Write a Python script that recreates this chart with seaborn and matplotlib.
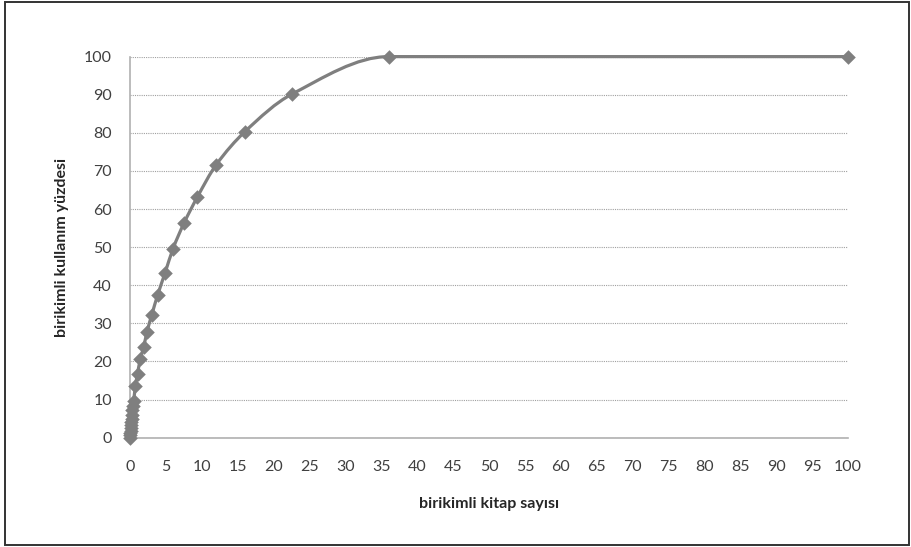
import numpy as np
import pandas as pd
import seaborn as sns
import matplotlib.pyplot as plt
from matplotlib.path import Path
from matplotlib.patches import PathPatch, Rectangle

# okunan degerler (birikimli kitap sayisi %, birikimli kullanim %)
kitap = [0, 0.02, 0.05, 0.08, 0.11, 0.15, 0.19, 0.24, 0.29, 0.35, 0.42, 0.5,
         0.77, 1.05, 1.45, 1.9, 2.35, 3.05, 3.85, 4.9, 6.0, 7.5, 9.4, 12.0,
         16.0, 22.5, 36.0, 100.0]
kullanim = [0, 0.6, 1.2, 1.8, 2.5, 3.2, 4.0, 5.0, 6.0, 7.2, 8.3, 9.5,
            13.6, 16.8, 20.6, 23.7, 27.6, 32.3, 37.4, 43.3, 49.6, 56.2, 63.2, 71.6,
            80.3, 90.1, 100.0, 100.0]
x_ticks = list(range(0, 101, 5))
y_ticks = list(range(0, 101, 10))

df = pd.DataFrame({'kitap': kitap, 'kullanim': kullanim})

sns.set_style('white')
plt.rcParams['font.family'] = ['Lato', 'DejaVu Sans']

fig = plt.figure(figsize=(9.12, 5.47), dpi=100)
ax = fig.add_axes([0.1425, 0.2, 0.7875, 0.6965])
ax.set_xlim(0, 100)
ax.set_ylim(0, 100)

gri = '#7f7f7f'

# yumusatilmis cizgi: monoton kubik hermite -> bezier (piksel uzayinda)
pts = ax.transData.transform(df[['kitap', 'kullanim']].values)
px, py = pts[:, 0], pts[:, 1]
h = np.diff(px)
h[h == 0] = 1e-6
d = np.diff(py) / h
m = np.zeros(len(px))
m[0], m[-1] = d[0], d[-1]
for i in range(1, len(px) - 1):
    if d[i - 1] * d[i] > 0:
        m[i] = 2 / (1 / d[i - 1] + 1 / d[i])
verts = [pts[0]]
codes = [Path.MOVETO]
for i in range(len(px) - 1):
    c1 = (px[i] + h[i] / 3, py[i] + m[i] * h[i] / 3)
    c2 = (px[i + 1] - h[i] / 3, py[i + 1] - m[i + 1] * h[i] / 3)
    verts += [c1, c2, pts[i + 1]]
    codes += [Path.CURVE4] * 3
verts = ax.transData.inverted().transform(np.array(verts))
ax.add_patch(PathPatch(Path(verts, codes), facecolor='none', edgecolor=gri,
                       lw=2.3, clip_on=False, zorder=3))

sns.scatterplot(data=df, x='kitap', y='kullanim', marker='D', s=55, color=gri,
                edgecolor=gri, linewidth=0, ax=ax, zorder=4, clip_on=False)

ax.set_xticks(x_ticks)
ax.set_yticks(y_ticks)
ax.tick_params(axis='both', length=0, labelsize=11.5, labelcolor='#404040')
ax.tick_params(axis='x', pad=16)
ax.tick_params(axis='y', pad=13)
ax.yaxis.grid(True, linestyle=(0, (1, 1)), color='#a0a0a0', lw=0.8)
ax.xaxis.grid(False)
for s in ['top', 'right']:
    ax.spines[s].set_visible(False)
for s in ['left', 'bottom']:
    ax.spines[s].set_color('#b0b0b0')
    ax.spines[s].set_linewidth(1.2)

ax.set_xlabel('birikimli kitap sayısı', fontsize=11.5, fontweight='bold',
              color='#262626', labelpad=17)
ax.set_ylabel('birikimli kullanım yüzdesi', fontsize=11.5, fontweight='bold',
              color='#262626', labelpad=11)

fig.patches.append(Rectangle((0.005, 0.003), 0.992, 0.993, transform=fig.transFigure,
                             fill=False, edgecolor='#333333', lw=1.4))

fig.savefig('out.png', dpi=100)
